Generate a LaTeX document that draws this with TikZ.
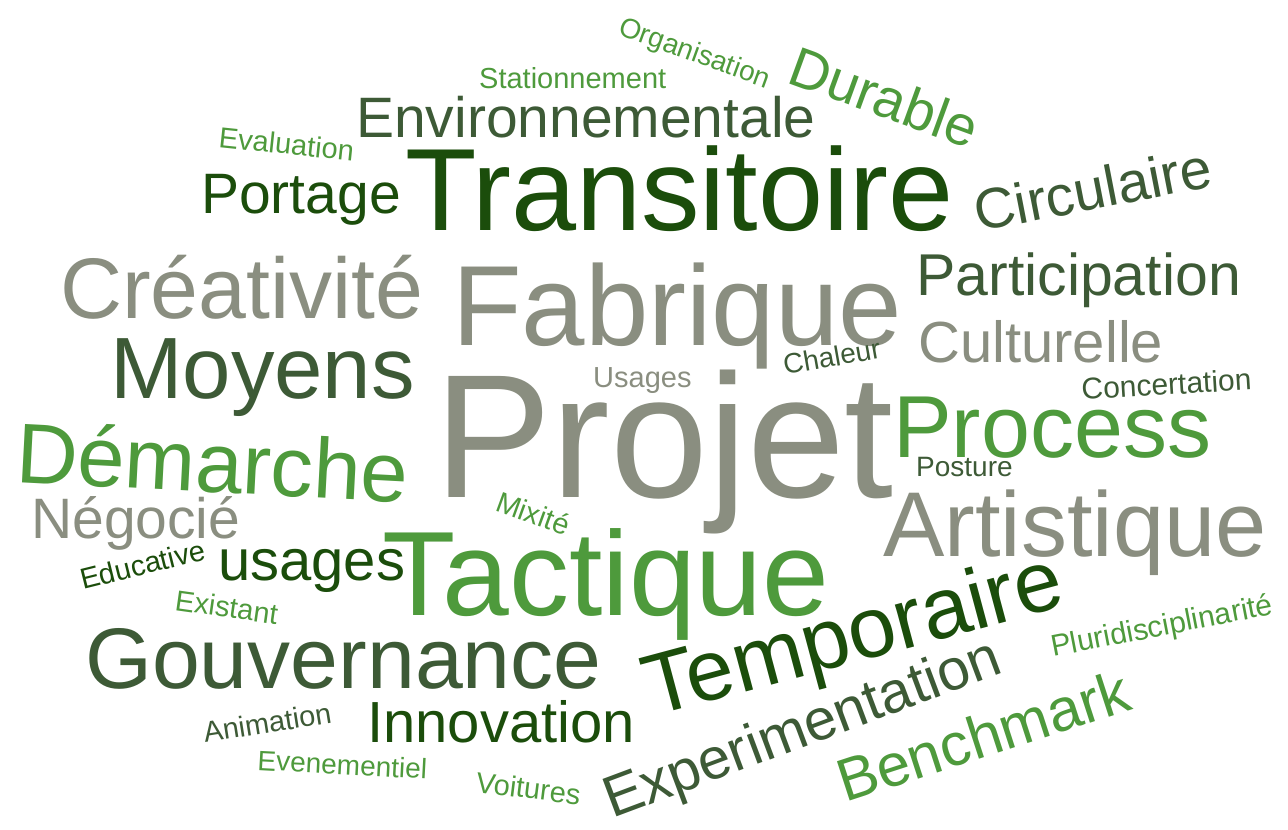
\documentclass[tikz,border=0pt]{standalone}
\usepackage{fontspec}
\setmainfont{Liberation Sans}
\definecolor{gdark}{HTML}{1B4D0B}
\definecolor{gslate}{HTML}{3D5A36}
\definecolor{gmid}{HTML}{4E9A3C}
\definecolor{ggray}{HTML}{8A8E80}
\begin{document}
\begin{tikzpicture}[x=1pt,y=-1pt,
  word/.style={inner sep=0pt,anchor=base west},
  sz/.style={font=\fontsize{#1}{#1}\selectfont}]
\useasboundingbox (0,0) rectangle (1288,830);
% top
\node[word,sz=28,gmid,rotate=-20] (orga) at (617,34) {Organisation};
\node[word,sz=29,gmid] (stat) at (479,88) {Stationnement};
\node[word,sz=56,gmid,rotate=-20] (dura) at (785,82) {Durable};
\node[word,sz=29,gmid,rotate=-6] (eval) at (218,147) {Evaluation};
\node[word,sz=57,gslate] (envi) at (356,137) {Environnementale};
\node[word,sz=117,gdark] (tran) at (405,230) {Transitoire};
\node[word,sz=57,gdark] (port) at (201,213) {Portage};
\node[word,sz=57,gslate,rotate=11] (circ) at (978,232) {Circulaire};
% middle
\node[word,sz=86,ggray] (crea) at (60,318) {Créativité};
\node[word,sz=114,ggray] (fabr) at (452,345) {Fabrique};
\node[word,sz=59,gslate] (part) at (916,295) {Participation};
\node[word,sz=58,ggray] (cult) at (918,362) {Culturelle};
\node[word,sz=87,gslate] (moye) at (110,398) {Moyens};
\node[word,sz=29,ggray] (usag) at (593,387) {Usages};
\node[word,sz=28,gslate,rotate=10] (chal) at (785,375) {Chaleur};
\node[word,sz=30,gslate,rotate=3.5] (conc) at (1082,400) {Concertation};
\node[word,sz=176,ggray] (proj) at (434,497) {Projet};
\node[word,sz=88,gmid] (proc) at (893,457) {Process};
\node[word,sz=85,gmid,rotate=-3] (dema) at (15,482) {Démarche};
\node[word,sz=28,gslate] (post) at (916,476) {Posture};
\node[word,sz=57,ggray] (nego) at (31,538) {Négocié};
\node[word,sz=29,gmid,rotate=-20] (mixi) at (494,510) {Mixité};
\node[word,sz=92,ggray] (arti) at (883,556) {Artistique};
% bottom
\node[word,sz=29,gdark,rotate=14] (educ) at (83,590) {Educative};
\node[word,sz=58,gdark] (usa2) at (218,580) {usages};
\node[word,sz=120,gmid] (tact) at (382,615) {Tactique};
\node[word,sz=29,gmid,rotate=-8] (exis) at (174,610) {Existant};
\node[word,sz=30,gmid,rotate=11] (plur) at (1053,657) {Pluridisciplinarité};
\node[word,sz=86,gslate] (gouv) at (85,688) {Gouvernance};
\node[word,sz=86,gdark,rotate=15] (temp) at (652,717) {Temporaire};
\node[word,sz=58,gdark] (inno) at (367,742) {Innovation};
\node[word,sz=29,gslate,rotate=9] (anim) at (205,743) {Animation};
\node[word,sz=58,gslate,rotate=20.5] (expe) at (612,819) {Experimentation};
\node[word,sz=60,gmid,rotate=18] (benc) at (845,803) {Benchmark};
\node[word,sz=28,gmid,rotate=-3] (even) at (257,770) {Evenementiel};
\node[word,sz=29,gmid,rotate=-7] (voit) at (475,792) {Voitures};
\end{tikzpicture}
\end{document}
